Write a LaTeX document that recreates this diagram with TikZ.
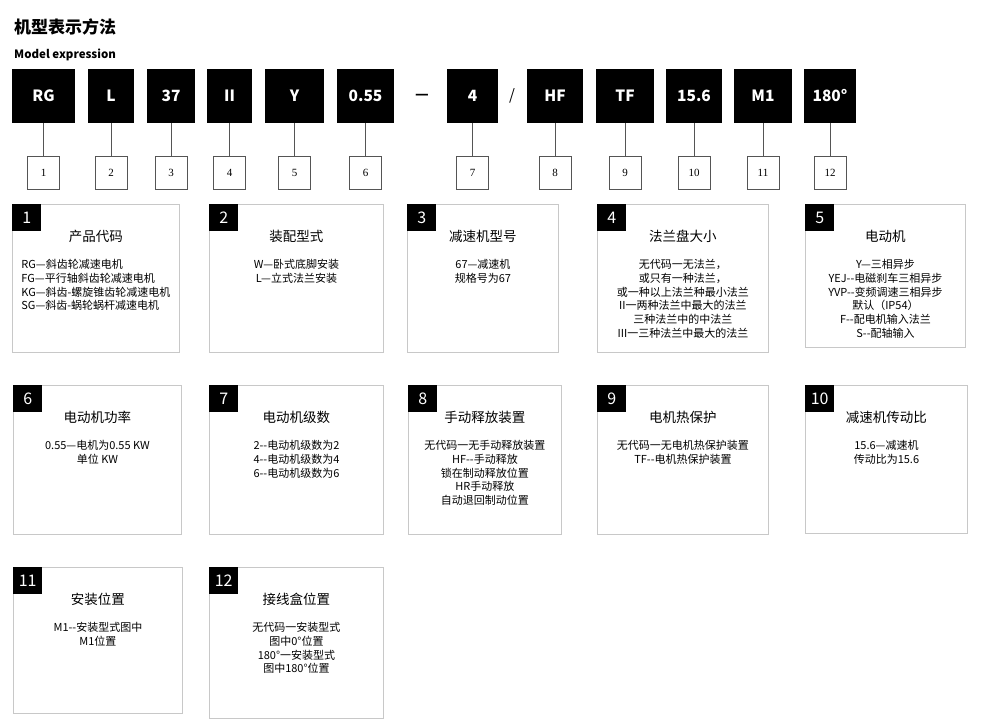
\documentclass[tikz,border=0pt]{standalone}
\usepackage{fontspec}
\setmainfont{Noto Sans CJK SC}
\newfontfamily\numfont{Liberation Serif}
\definecolor{MInk}{HTML}{000000}
\definecolor{MFrame}{HTML}{C8C8C8}
\definecolor{MLink}{HTML}{555555}
\usepackage{tikz}
\usetikzlibrary{positioning,calc}

\tikzset{
  codebox/.style={fill=MInk,text=white,font=\bfseries\fontsize{15.5}{18}\selectfont,
    minimum height=54pt,inner sep=0pt},
  numbox/.style={draw=MLink,line width=0.9pt,fill=white,minimum width=32pt,
    minimum height=33pt,inner sep=0pt,font=\numfont\fontsize{11}{13}\selectfont},
  link/.style={draw=MLink,line width=0.9pt},
  infobox/.style={draw=MFrame,line width=0.9pt,anchor=north west,inner sep=0pt},
  tagbox/.style={fill=MInk,text=white,anchor=north west,minimum width=29pt,
    minimum height=27pt,inner sep=0pt,font=\fontsize{16}{18}\selectfont},
  boxtitle/.style={font=\fontsize{13.5}{16}\selectfont},
  boxtext/.style={anchor=north,inner sep=0pt,font=\fontsize{11}{13.8}\selectfont},
}

\begin{document}
\begin{tikzpicture}[x=1pt,y=-1pt]
  \path[use as bounding box,fill=white] (0,0) rectangle (983,728);
  \node[anchor=west,inner sep=0pt,font=\bfseries\fontsize{17}{20}\selectfont] (title) at (14,27) {机型表示方法};
  \node[anchor=west,inner sep=0pt,font=\bfseries\fontsize{11.5}{14}\selectfont] (subtitle) at (14,55) {Model expression};

  % code line and its numbers
  \foreach \code/\cx/\w [count=\i] in {RG/43.5/63, L/111/46, 37/171/48, II/229.5/45,
      Y/294.5/59, 0.55/365.5/57, 4/472.5/51, HF/555/56, TF/625/58, 15.6/694/56,
      M1/763/58, 180°/830/52}{
    \node[codebox,minimum width=\w pt] (c\i) at (\cx,96) {\code};
    \node[numbox] (n\i) at (\cx,172.5) {\i};
    \draw[link] (c\i) -- (n\i);
  }
  \node[font=\bfseries\fontsize{15}{18}\selectfont] (dash) at (422,97) {—};
  \node[font=\fontsize{15}{18}\selectfont] (slash) at (512,96) {/};

  % explanation boxes
  \foreach \bx/\by/\bw/\bh/\al/\ttl/\txt [count=\i] in {
      12/204/167/148/left/产品代码/{RG—斜齿轮减速电机\\FG—平行轴斜齿轮减速电机\\KG—斜齿-螺旋锥齿轮减速电机\\SG—斜齿-蜗轮蜗杆减速电机},
      209/204/174/148/center/装配型式/{W—卧式底脚安装\\L—立式法兰安装},
      407/204/151/148/center/减速机型号/{67—减速机\\规格号为67},
      597/204/171/148/center/法兰盘大小/{无代码一无法兰，\\或只有一种法兰，\\或一种以上法兰种最小法兰\\II一两种法兰中最大的法兰\\三种法兰中的中法兰\\III一三种法兰中最大的法兰},
      805/204/160/143/center/电动机/{Y—三相异步\\YEJ-{}-电磁刹车三相异步\\YVP-{}-变频调速三相异步\\默认（IP54）\\F-{}-配电机输入法兰\\S-{}-配轴输入},
      13/385/168/149/center/电动机功率/{0.55—电机为0.55 KW\\单位 KW},
      209/385/174/149/center/电动机级数/{2-{}-电动机级数为2\\4-{}-电动机级数为4\\6-{}-电动机级数为6},
      408/385/153/149/center/手动释放装置/{无代码一无手动释放装置\\HF-{}-手动释放\\锁在制动释放位置\\HR手动释放\\自动退回制动位置},
      597/385/171/149/center/电机热保护/{无代码一无电机热保护装置\\TF-{}-电机热保护装置},
      805/385/162/148/center/减速机传动比/{15.6—减速机\\传动比为15.6},
      13/567/169/146/center/安装位置/{M1-{}-安装型式图中\\M1位置},
      209/567/174/151/center/接线盒位置/{无代码一安装型式\\图中0°位置\\180°一安装型式\\图中180°位置}}{
    \node[infobox,minimum width=\bw pt,minimum height=\bh pt] (b\i) at (\bx,\by) {};
    \node[tagbox] (t\i) at (b\i.north west) {\i};
    \node[boxtitle] (h\i) at ($(b\i.north)+(0,32)$) {\ttl};
    \node[boxtext,align=\al] (d\i) at ($(b\i.north)+(0,55)$) {\txt};
  }
\end{tikzpicture}
\end{document}
